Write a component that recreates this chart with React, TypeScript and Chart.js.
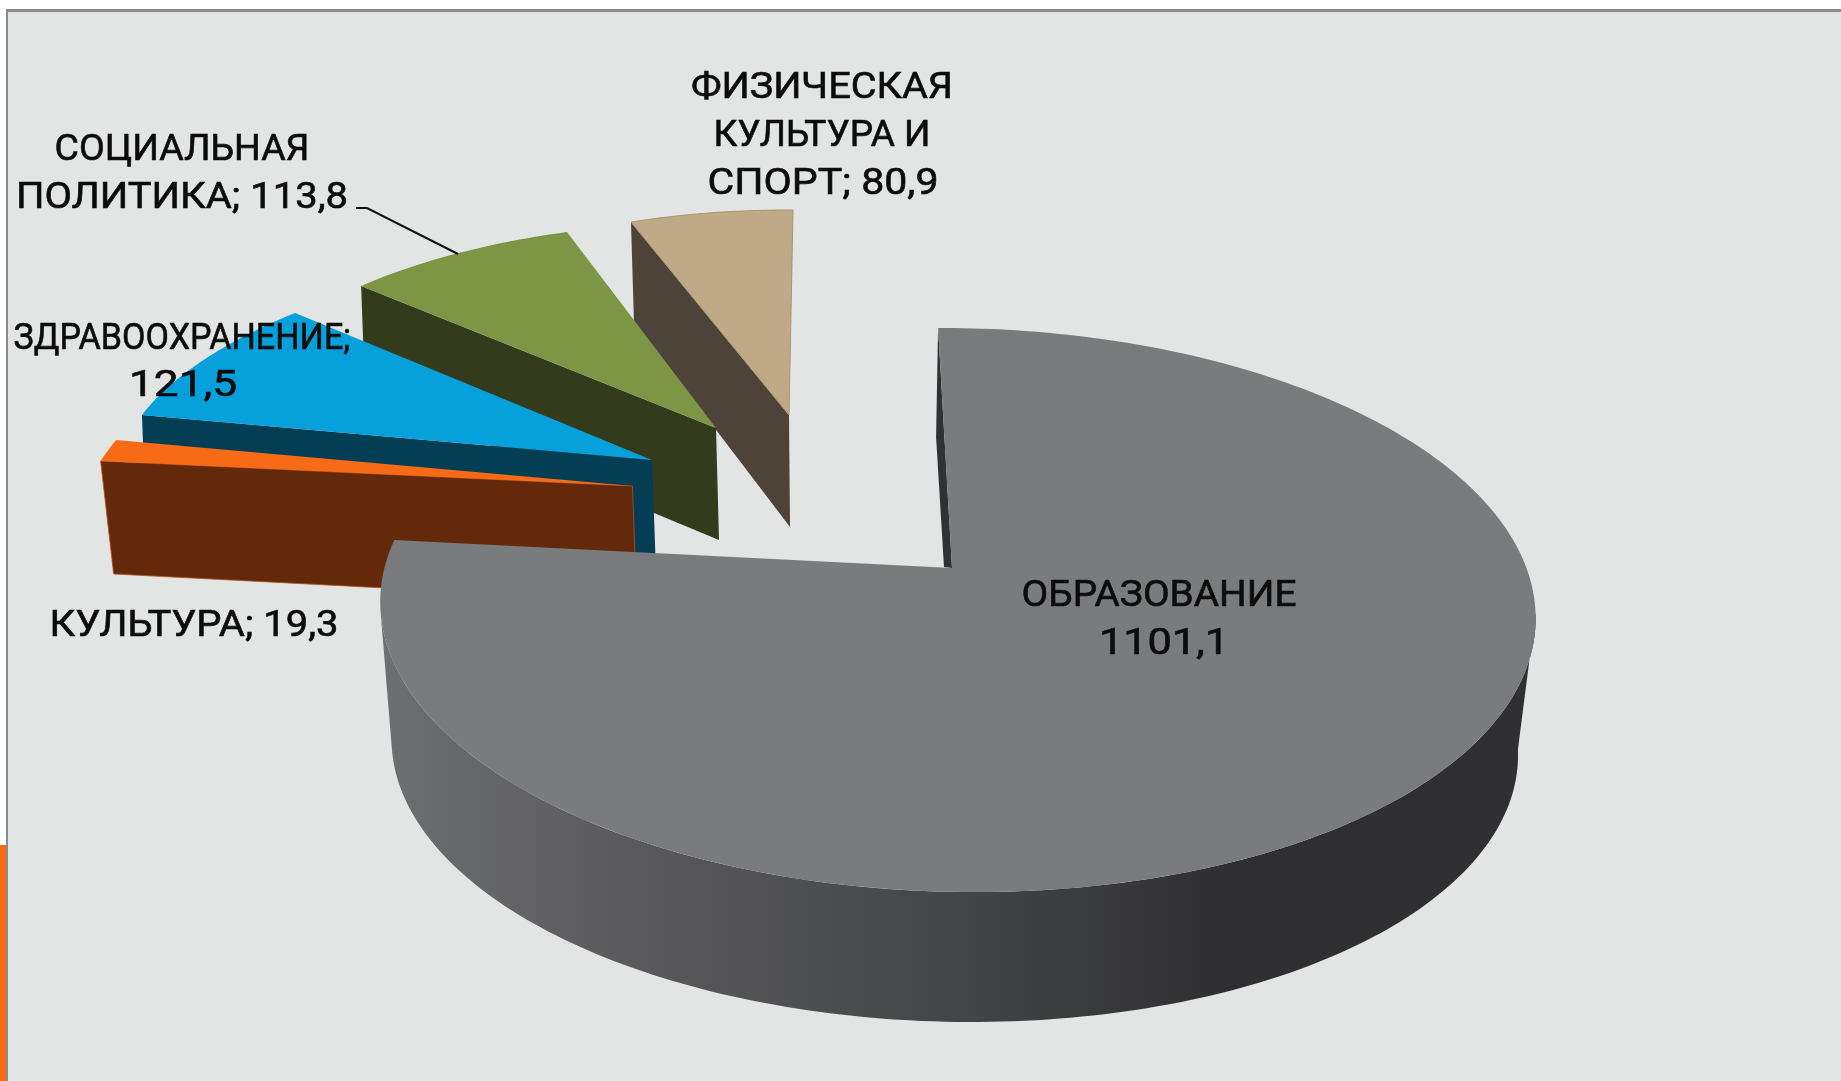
import React, { useEffect, useRef } from "react";
import { Chart, registerables } from "chart.js";

Chart.register(...registerables);

// ---- data ----
const categories = ["ОБРАЗОВАНИЕ", "КУЛЬТУРА", "ЗДРАВООХРАНЕНИЕ", "СОЦИАЛЬНАЯ ПОЛИТИКА", "ФИЗИЧЕСКАЯ КУЛЬТУРА И СПОРТ"];
const values = [1101.1, 19.3, 121.5, 113.8, 80.9];
const labelLines = [
  ["ОБРАЗОВАНИЕ", "1101,1"],
  ["КУЛЬТУРА; 19,3"],
  ["ЗДРАВООХРАНЕНИЕ;", "121,5"],
  ["СОЦИАЛЬНАЯ", "ПОЛИТИКА; 113,8"],
  ["ФИЗИЧЕСКАЯ", "КУЛЬТУРА И", "СПОРТ; 80,9"],
];

// ---- styles ----
const topColors = ["#7a7b7d", "#f76b17", "#06a0da", "#7c9646", "#bfa987"];
const topStroke = [null, null, null, null, "#a8946f"];
const wallColors = ["#303134", "#64290b", "#033e55", "#333b1c", "#4d4338"];
const wallStroke = [null, "#b5501a", null, null, null];

// ---- 3D look: per-slice shift from the pie centre and projection of the unit circle ----
const sliceShift = [[31.5, 27.5], [-288, -54.5], [-268.5, -80.5], [-204.5, -112.5], [-131.5, -125.5]];
const sliceMatrix = [
  [571, 16, 0, 275.8],
  [545.7, -105.5, -0.9, 251.2],
  [531.6, -65.3, 4.3, 218.3],
  [491.6, -22.7, 8.6, 205.7],
  [466.9, -4, 2, 205],
];
const slicePerspective = [[0.149, 0.006], [0, 0], [0, 0], [0, 0], [0, 0]];
const wallApex = [[-8, -1], [4, 115], [4, 112], [3, 112], [1, 112]];
const wallRim = [[-2, 109], [13, 113], [4, 105], [4, 107], [3, 100]];
const rimWallOffset = [-3, 138];
const rimWallScale = 0.975;
const rimWallDeg = [99, 261];
const rimWallStops: [number, string][] = [[0, "#6e6f71"], [0.18, "#5d5d60"], [0.51, "#434445"], [0.74, "#2f2f31"], [1, "#303032"]];
const rimWallGradientX = [381, 1534];

// per text line: centre x, centre y, width on the page
const labelPos = [
  [[1159, 595, 275], [1164, 643, 130]],
  [[194, 624.5, 289]],
  [[182, 338, 337], [183, 385, 108]],
  [[182, 149, 255], [182, 197, 332]],
  [[822, 87, 262], [822, 135, 217], [823, 182.5, 231]],
];
const labelFont = '36px Roboto, "Noto Sans", sans-serif';
const leader = [[356, 208], [367, 208], [458, 254]];
const DRAW_ORDER = [4, 3, 2, 1, 0];

function project(i: number, c: { x: number; y: number; unit: number }, ux: number, uy: number, extra = [0, 0], scale = 1) {
  const [a, b, d1, d2] = sliceMatrix[i];
  const [k, m] = slicePerspective[i];
  const w = 1 - k * uy - m * ux;
  return [
    c.x + c.unit * (sliceShift[i][0] + extra[0] + (scale * (a * ux + b * uy)) / w),
    c.y + c.unit * (sliceShift[i][1] + extra[1] + (scale * (d1 * ux + d2 * uy)) / w),
  ];
}

const pie3d = {
  id: "pie3d",
  beforeDatasetDraw(chart: any) {
    const ctx = chart.ctx;
    const arcs = chart.getDatasetMeta(0).data;
    for (const i of DRAW_ORDER) {
      const el = arcs[i].getProps(["x", "y", "startAngle", "endAngle", "outerRadius"], true);
      const c = { x: el.x, y: el.y, unit: el.outerRadius / 540.5 };
      const ap = project(i, c, 0, 0);
      const su = [Math.cos(el.startAngle), Math.sin(el.startAngle)];
      const rimStart = project(i, c, su[0], su[1]);

      // cut face of the slice
      ctx.beginPath();
      ctx.moveTo(ap[0], ap[1]);
      ctx.lineTo(rimStart[0], rimStart[1]);
      ctx.lineTo(rimStart[0] + wallRim[i][0] * c.unit, rimStart[1] + wallRim[i][1] * c.unit);
      ctx.lineTo(ap[0] + wallApex[i][0] * c.unit, ap[1] + wallApex[i][1] * c.unit);
      ctx.closePath();
      ctx.fillStyle = wallColors[i];
      ctx.fill();
      if (wallStroke[i]) {
        ctx.strokeStyle = wallStroke[i];
        ctx.lineWidth = 0.8;
        ctx.stroke();
      }

      // outer wall of the big slice, between its two silhouette points
      if (i === 0) {
        const from = el.startAngle + (rimWallDeg[0] * Math.PI) / 180;
        const to = el.startAngle + (rimWallDeg[1] * Math.PI) / 180;
        const N = 160;
        ctx.beginPath();
        for (let s = 0; s <= N; s++) {
          const t = from + ((to - from) * s) / N;
          const p = project(i, c, Math.cos(t), Math.sin(t));
          if (s === 0) ctx.moveTo(p[0], p[1]);
          else ctx.lineTo(p[0], p[1]);
        }
        for (let s = N; s >= 0; s--) {
          const t = from + ((to - from) * s) / N;
          const p = project(i, c, Math.cos(t), Math.sin(t), rimWallOffset, rimWallScale);
          ctx.lineTo(p[0], p[1]);
        }
        ctx.closePath();
        const g = ctx.createLinearGradient(rimWallGradientX[0], 0, rimWallGradientX[1], 0);
        rimWallStops.forEach(([o, col]) => g.addColorStop(o, col));
        ctx.fillStyle = g;
        ctx.fill();
      }

      // top face
      const steps = Math.max(12, Math.round(((el.endAngle - el.startAngle) * 180) / Math.PI));
      ctx.beginPath();
      ctx.moveTo(ap[0], ap[1]);
      for (let s = 0; s <= steps; s++) {
        const t = el.startAngle + ((el.endAngle - el.startAngle) * s) / steps;
        const p = project(i, c, Math.cos(t), Math.sin(t));
        ctx.lineTo(p[0], p[1]);
      }
      ctx.closePath();
      ctx.fillStyle = topColors[i];
      ctx.fill();
      if (topStroke[i]) {
        ctx.strokeStyle = topStroke[i];
        ctx.lineWidth = 1;
        ctx.stroke();
      }
    }
    return false;
  },
  afterDatasetsDraw(chart: any) {
    const ctx = chart.ctx;
    ctx.save();
    ctx.strokeStyle = "#111";
    ctx.lineWidth = 2;
    ctx.beginPath();
    leader.forEach((p, n) => (n ? ctx.lineTo(p[0], p[1]) : ctx.moveTo(p[0], p[1])));
    ctx.stroke();
    ctx.fillStyle = "#0c0c0c";
    ctx.strokeStyle = "#0c0c0c";
    ctx.lineWidth = 0.6;
    ctx.font = labelFont;
    ctx.textAlign = "center";
    ctx.textBaseline = "middle";
    labelLines.forEach((lines, i) => {
      lines.forEach((line, n) => {
        const [x, y, width] = labelPos[i][n];
        ctx.save();
        ctx.translate(x, y);
        ctx.scale(width / ctx.measureText(line).width, 1);
        ctx.fillText(line, 0, 2);
        ctx.strokeText(line, 0, 2);
        ctx.restore();
      });
    });
    ctx.restore();
  },
};

export default function App() {
  const ref = useRef<HTMLCanvasElement>(null);
  useEffect(() => {
    const chart = new Chart(ref.current as HTMLCanvasElement, {
      type: "pie",
      data: {
        labels: categories,
        datasets: [{ data: values, backgroundColor: topColors, borderWidth: 0 }],
      },
      options: {
        animation: false,
        responsive: false,
        layout: { padding: 0 },
        plugins: { legend: { display: false }, tooltip: { enabled: false }, title: { display: false } },
      },
      plugins: [pie3d],
    } as any);
    return () => chart.destroy();
  }, []);
  return (
    <div style={{ position: "fixed", left: 0, top: 0, width: 1841, height: 1081, background: "#fff", overflow: "hidden" }}>
      <div style={{ position: "absolute", left: 0, top: 845, width: 6, height: 236, background: "#f76b15" }} />
      <div
        style={{
          position: "absolute",
          left: 6,
          top: 9,
          right: 0,
          bottom: 0,
          background: "#e3e5e4",
          borderLeft: "2.5px solid #8c8c8c",
          borderTop: "3px solid #8c8c8c",
        }}
      />
      <canvas ref={ref} width={1841} height={1081} style={{ position: "absolute", left: 0, top: 0, display: "block" }} />
    </div>
  );
}
